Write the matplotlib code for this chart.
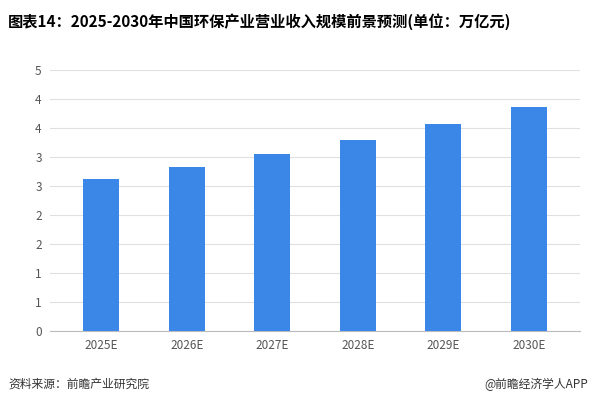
import matplotlib.pyplot as plt
import numpy as np

plt.rcParams['font.family'] = ['Noto Sans CJK SC', 'DejaVu Sans']

years = ["2025E", "2026E", "2027E", "2028E", "2029E", "2030E"]
revenue = [2.62, 2.83, 3.05, 3.29, 3.57, 3.86]
tick_values = [0, 0.5, 1, 1.5, 2, 2.5, 3, 3.5, 4, 4.5]
tick_labels = ["0", "1", "1", "2", "2", "3", "3", "4", "4", "5"]

fig = plt.figure(figsize=(5.93, 4.05), dpi=100)
ax = fig.add_axes([50 / 593, (405 - 331) / 405, 530 / 593, 261 / 405])

x = np.arange(len(years))
ax.bar(x, revenue, width=0.42, color="#3a87e8", zorder=3)
ax.set_xticks(x)
ax.set_xticklabels(years, fontsize=8.5, color="#555555")
ax.set_yticks(tick_values)
ax.set_yticklabels(tick_labels, fontsize=8.5, color="#555555")
ax.set_ylim(0, 4.5)
ax.set_xlim(-0.6, 5.6)
ax.grid(axis="y", color="#e0e0e0", linewidth=0.8, zorder=0)
for s in ["top", "right", "left"]:
    ax.spines[s].set_visible(False)
ax.spines["bottom"].set_color("#bbbbbb")
ax.tick_params(axis="both", length=0, pad=6)

fig.text(8 / 593, 1 - 22 / 405, "图表14：2025-2030年中国环保产业营业收入规模前景预测(单位：万亿元)",
         fontsize=11, fontweight="bold", va="center", ha="left")
fig.text(8 / 593, 1 - 384 / 405, "资料来源：前瞻产业研究院", fontsize=8.5,
         va="center", ha="left", color="#333333")
fig.text(588 / 593, 1 - 384 / 405, "@前瞻经济学人APP", fontsize=8.5,
         va="center", ha="right", color="#333333")

plt.savefig("out.png", dpi=100)
